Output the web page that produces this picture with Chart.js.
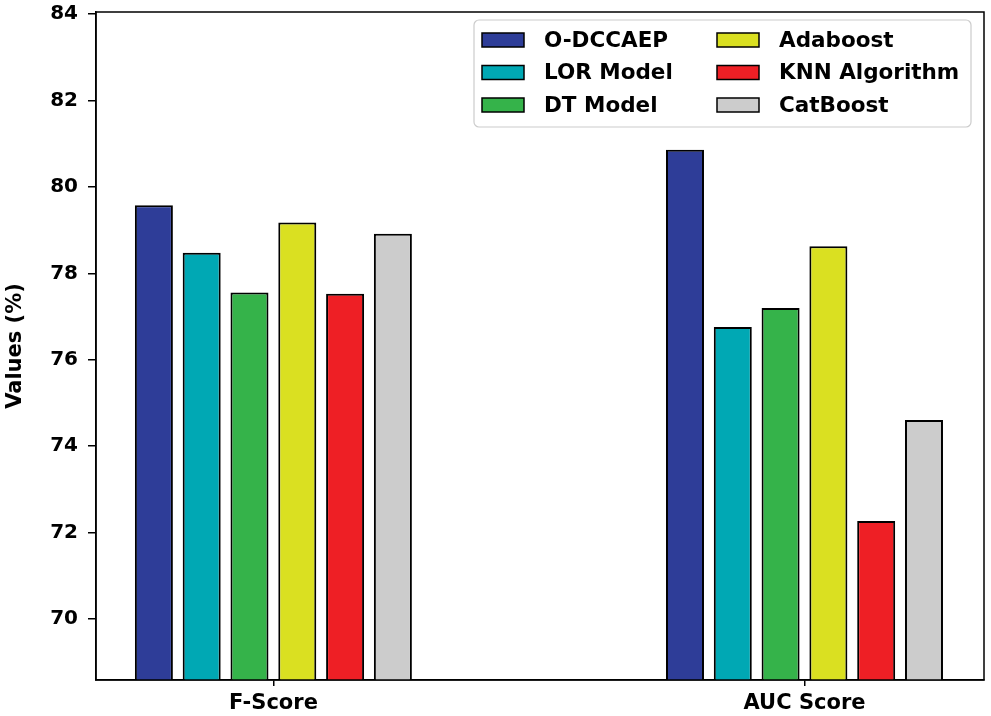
<!DOCTYPE html>
<html>
<head>
<meta charset="utf-8">
<script src="https://cdn.jsdelivr.net/npm/chart.js@4.4.1/dist/chart.umd.min.js"></script>
<style>
  body { margin: 0; background: #fff; }
  #wrap { width: 991px; height: 716px; }
</style>
</head>
<body>
<div id="wrap"><canvas id="myChart"></canvas></div>
<script>
// data
const categories = ['F-Score', 'AUC Score'];
const models = ['O-DCCAEP', 'LOR Model', 'DT Model', 'Adaboost', 'KNN Algorithm', 'CatBoost'];
const oDccaep = [79.58, 80.86];
const lorModel = [78.48, 76.76];
const dtModel = [77.56, 77.20];
const adaboost = [79.18, 78.63];
const knnAlgorithm = [77.53, 72.27];
const catBoost = [78.92, 74.61];
const yTicks = [70, 72, 74, 76, 78, 80, 82, 84];

const series = [oDccaep, lorModel, dtModel, adaboost, knnAlgorithm, catBoost];
const colors = ['#2E3D98', '#00A8B4', '#35B34A', '#DAE021', '#EE1F25', '#CCCCCC'];
const FONT = '"DejaVu Sans", sans-serif';

// frame on all four sides, like matplotlib spines
const framePlugin = {
  id: 'frame',
  afterDatasetsDraw(chart) {
    const a = chart.chartArea, ctx = chart.ctx;
    ctx.save();
    ctx.strokeStyle = '#000';
    ctx.lineWidth = 1.5;
    ctx.strokeRect(a.left, a.top, a.right - a.left, a.bottom - a.top);
    ctx.restore();
  }
};

// two-column legend, filled column by column
const legendPlugin = {
  id: 'colLegend',
  afterDraw(chart) {
    const a = chart.chartArea, ctx = chart.ctx;
    const x0 = a.right - 510, y0 = a.top + 8, w = 497, h = 107;
    ctx.save();
    ctx.fillStyle = 'rgba(255,255,255,0.85)';
    ctx.strokeStyle = '#cccccc';
    ctx.lineWidth = 1.2;
    ctx.beginPath();
    ctx.roundRect(x0, y0, w, h, 5);
    ctx.fill();
    ctx.stroke();
    ctx.font = 'bold 21.5px ' + FONT;
    ctx.textBaseline = 'middle';
    chart.data.datasets.forEach((ds, i) => {
      const col = Math.floor(i / 3), row = i % 3;
      const px = x0 + 8 + col * 235;
      const cy = y0 + 20 + row * 32.5;
      ctx.fillStyle = ds.backgroundColor;
      ctx.fillRect(px, cy - 7, 42, 14);
      ctx.strokeStyle = '#000';
      ctx.lineWidth = 1.5;
      ctx.strokeRect(px, cy - 7, 42, 14);
      ctx.fillStyle = '#000';
      ctx.fillText(ds.label, px + 62, cy + 1);
    });
    ctx.restore();
  }
};

const ctx = document.getElementById('myChart').getContext('2d');
const chart = new Chart(ctx, {
  type: 'bar',
  data: {
    datasets: models.map((m, i) => ({
      label: m,
      data: series[i].map((v, k) => ({ x: k, y: v })),
      backgroundColor: colors[i],
      borderColor: '#000',
      borderWidth: 2,
      borderSkipped: false,
      categoryPercentage: 0.54,
      barPercentage: 0.795
    }))
  },
  options: {
    responsive: true,
    maintainAspectRatio: false,
    animation: false,
    layout: { padding: { top: 12, right: 7, left: 0, bottom: 0 } },
    plugins: {
      legend: { display: false },
      tooltip: { enabled: false }
    },
    scales: {
      x: {
        type: 'linear',
        offset: false,
        min: -0.334,
        max: 1.338,
        afterBuildTicks: (s) => { s.ticks = categories.map((c, k) => ({ value: k })); },
        afterFit: (s) => { s.height = 36; s.paddingLeft = 0; s.paddingRight = 0; },
        ticks: {
          callback: (v) => categories[v],
          color: '#000',
          font: { family: FONT, size: 21, weight: 'bold' },
          padding: 5,
          maxRotation: 0
        },
        grid: { offset: false, drawOnChartArea: false, drawTicks: true, tickLength: 6, color: '#000', lineWidth: 1.5 },
        border: { color: '#000', width: 1.5 }
      },
      y: {
        min: 68.59,
        max: 84.05,
        afterBuildTicks: (s) => { s.ticks = yTicks.map(v => ({ value: v })); },
        afterFit: (s) => { s.width = 96; s.paddingTop = 0; s.paddingBottom = 0; },
        ticks: {
          color: '#000',
          font: { family: FONT, size: 20, weight: 'bold' },
          padding: 10
        },
        grid: { drawOnChartArea: false, drawTicks: true, tickLength: 8, color: '#000', lineWidth: 1.5 },
        border: { color: '#000', width: 1.5 },
        title: {
          display: true,
          text: 'Values (%)',
          color: '#000',
          font: { family: FONT, size: 21, weight: 'bold' },
          padding: { top: 3, bottom: 0 }
        }
      }
    }
  },
  plugins: [framePlugin, legendPlugin]
});
</script>
</body>
</html>
